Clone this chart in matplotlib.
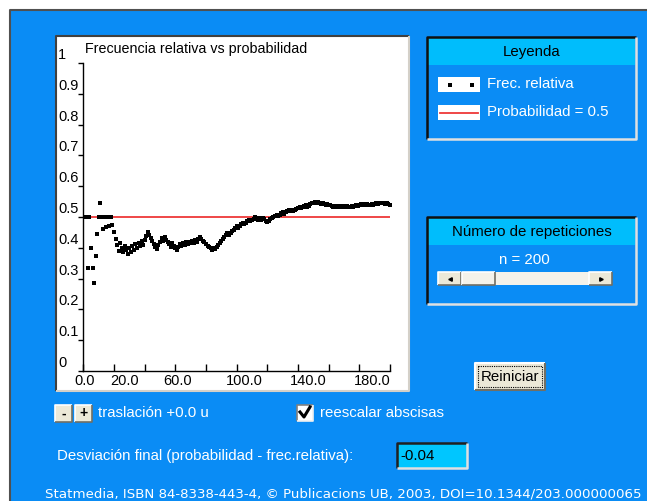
import matplotlib
matplotlib.use("Agg")
import matplotlib.pyplot as plt
import matplotlib.transforms as mtransforms
import numpy as np
from matplotlib.lines import Line2D
from matplotlib.patches import Rectangle

# relative frequency after each repetition (n = 2 .. 200)
freq = [
    0.500, 0.333, 0.500, 0.400, 0.333, 0.286, 0.375, 0.444, 0.500,  # 2-10
    0.545, 0.500, 0.462, 0.500, 0.467, 0.500, 0.471, 0.500, 0.474, 0.450,  # 11-20
    0.429, 0.409, 0.391, 0.417, 0.400, 0.385, 0.407, 0.393, 0.379, 0.400,  # 21-30
    0.387, 0.406, 0.394, 0.412, 0.400, 0.417, 0.405, 0.421, 0.410, 0.425,  # 31-40
    0.439, 0.452, 0.442, 0.432, 0.422, 0.413, 0.404, 0.396, 0.408, 0.420,  # 41-50
    0.431, 0.423, 0.434, 0.426, 0.418, 0.411, 0.404, 0.414, 0.407, 0.400,  # 51-60
    0.393, 0.403, 0.413, 0.406, 0.415, 0.409, 0.418, 0.412, 0.420, 0.414,  # 61-70
    0.423, 0.417, 0.425, 0.419, 0.427, 0.434, 0.429, 0.423, 0.418, 0.413,  # 71-80
    0.407, 0.402, 0.398, 0.393, 0.400, 0.395, 0.402, 0.409, 0.416, 0.422,  # 81-90
    0.429, 0.435, 0.441, 0.447, 0.442, 0.448, 0.454, 0.459, 0.465, 0.470,  # 91-100
    0.465, 0.471, 0.476, 0.481, 0.476, 0.481, 0.486, 0.491, 0.486, 0.491,  # 101-110
    0.495, 0.500, 0.496, 0.491, 0.496, 0.491, 0.496, 0.492, 0.487, 0.483,  # 111-120
    0.488, 0.492, 0.496, 0.500, 0.504, 0.508, 0.504, 0.508, 0.512, 0.515,  # 121-130
    0.511, 0.515, 0.519, 0.522, 0.519, 0.522, 0.518, 0.522, 0.525, 0.529,  # 131-140
    0.532, 0.528, 0.531, 0.535, 0.538, 0.534, 0.537, 0.541, 0.544, 0.547,  # 141-150
    0.550, 0.546, 0.549, 0.545, 0.542, 0.545, 0.541, 0.538, 0.541, 0.538,  # 151-160
    0.540, 0.537, 0.534, 0.537, 0.533, 0.536, 0.533, 0.536, 0.533, 0.535,  # 161-170
    0.532, 0.535, 0.532, 0.534, 0.537, 0.534, 0.537, 0.539, 0.536, 0.539,  # 171-180
    0.541, 0.538, 0.541, 0.538, 0.541, 0.538, 0.540, 0.543, 0.540, 0.542,  # 181-190
    0.545, 0.542, 0.544, 0.546, 0.544, 0.546, 0.543, 0.545, 0.543, 0.540,  # 191-200
]
n_first = 2
probability = 0.5
final_dev = "-0.04"
n_total = 200

y_ticks = [0, 0.1, 0.2, 0.3, 0.4, 0.5, 0.6, 0.7, 0.8, 0.9, 1.0]
y_labels = ["0", "0.1", "0.2", "0.3", "0.4", "0.5", "0.6", "0.7", "0.8", "0.9", "1"]
x_ticks = [0, 20, 40, 60, 80, 100, 120, 140, 160, 180, 200]
x_labels = ["0.0", "20.0", "60.0", "100.0", "140.0", "180.0"]
x_label_pos = [0.8, 27.0, 61.4, 104.7, 146.4, 188.1]

BLUE = "#0a8cf5"
CYAN = "#00bdfc"
BOX_CYAN = "#00c6ff"
BEIGE = "#ece9d8"
TRACK = "#f4f2ea"
DARK = "#404040"
LIGHT = "#d4d0c8"
RED = "#ee3838"

W, H = 647, 501
FONT = ["Liberation Sans", "DejaVu Sans"]
plt.rcParams["font.family"] = FONT
plt.rcParams["font.size"] = 10.5

fig = plt.figure(figsize=(W / 100, H / 100), dpi=100, facecolor=BLUE)


def rect(x0, y0, x1, y1, **kw):
    r = Rectangle((x0 / W, 1 - y1 / H), (x1 - x0) / W, (y1 - y0) / H,
                  transform=fig.transFigure, **kw)
    fig.patches.append(r)
    return r


def line(xs, ys, **kw):
    kw.setdefault("zorder", 4)
    ln = Line2D([x / W for x in xs], [1 - y / H for y in ys], transform=fig.transFigure, **kw)
    fig.lines.append(ln)
    return ln


def text(x, y, s, **kw):
    kw.setdefault("va", "center")
    kw.setdefault("zorder", 6)
    return fig.text(x / W, 1 - y / H, s, **kw)


def sunken(x0, y0, x1, y1, dark=DARK, light=LIGHT, lw=1.5):
    line([x0, x0, x1], [y1, y0, y0], color=dark, lw=lw, solid_capstyle="butt")
    line([x0, x1, x1], [y1, y1, y0], color=light, lw=lw, solid_capstyle="butt")


def raised(x0, y0, x1, y1, lw=1.2):
    line([x0, x0, x1], [y1, y0, y0], color="white", lw=lw, solid_capstyle="butt")
    line([x0, x1, x1], [y1, y1, y0], color="#716f64", lw=lw, solid_capstyle="butt")


# white margin + outer border of the applet
rect(0, 0, W, 10, facecolor="white", edgecolor="none", zorder=0)
rect(0, 0, 10, H, facecolor="white", edgecolor="none", zorder=0)
line([10, 10, W], [H, 10, 10], color="#505050", lw=1.5)

# plot panel
rect(56, 36, 409, 391, facecolor="white", edgecolor="none", zorder=1)
sunken(56, 36, 409, 391)

ax = fig.add_axes([83.3 / W, 1 - 371 / H, (390 - 83.3) / W, (371 - 63) / H])
ax.set_zorder(5)
ax.set_facecolor("none")
ax.set_xlim(0, 200)
ax.set_ylim(0, 1)
for side in ("top", "right"):
    ax.spines[side].set_visible(False)
for side in ("left", "bottom"):
    ax.spines[side].set_linewidth(1.0)
ax.set_yticks(y_ticks)
ax.set_yticklabels([])
ax.tick_params(axis="y", direction="out", length=3.8, width=1.0)
ax.set_xticks(x_ticks)
ax.set_xticklabels([])
ax.tick_params(axis="x", direction="in", length=5.0, width=1.0)

ax.axhline(probability, color=RED, lw=1.3, zorder=2)
n_values = np.arange(n_first, n_first + len(freq))
ax.plot(n_values, freq, linestyle="none", marker="s", markersize=2.9,
        markeredgewidth=0, color="black", clip_on=False, zorder=3)

ytrans = mtransforms.offset_copy(
    mtransforms.blended_transform_factory(fig.transFigure, ax.transData),
    fig=fig, x=0, y=5.8, units="points")
for v, lab in zip(y_ticks, y_labels):
    ax.text(58 / W, v, lab, transform=ytrans, ha="left", va="center", fontsize=10.5)

xtrans = mtransforms.offset_copy(
    mtransforms.blended_transform_factory(ax.transData, ax.transAxes),
    fig=fig, x=0, y=-2.5, units="points")
for p, lab in zip(x_label_pos, x_labels):
    ax.text(p, 0, lab, transform=xtrans, ha="center", va="top", fontsize=10.5)

text(85, 48.5, "Frecuencia relativa vs probabilidad", ha="left", fontsize=10.3)

# legend panel
rect(427, 37, 636, 139, facecolor=BLUE, edgecolor="none", zorder=1)
rect(428, 38, 635, 65, facecolor=CYAN, edgecolor="none", zorder=1)
line([427, 427, 636], [139, 37, 37], color="#101010", lw=1.8, solid_capstyle="butt")
line([427, 636, 636], [139, 139, 37], color="#e0e0e0", lw=1.8, solid_capstyle="butt")
text(532, 52, "Leyenda", ha="center", color="black", fontsize=10.8)
rect(438, 77, 480, 92, facecolor="white", edgecolor="none", zorder=2)
line([450, 472], [84.5, 84.5], linestyle="none", marker="s", markersize=2.9,
     markeredgewidth=0, color="black")
text(487, 84, "Frec. relativa", ha="left", color="white", fontsize=10.8)
rect(438, 105, 480, 120, facecolor="white", edgecolor="none", zorder=2)
line([440, 478], [112.5, 112.5], color=RED, lw=1.3)
text(487, 112, "Probabilidad = " + str(probability), ha="left", color="white", fontsize=10.8)

# repetitions panel
rect(427, 217, 636, 304, facecolor=BLUE, edgecolor="none", zorder=1)
rect(428, 218, 635, 245, facecolor=CYAN, edgecolor="none", zorder=1)
line([427, 427, 636], [304, 217, 217], color="#101010", lw=1.8, solid_capstyle="butt")
line([427, 636, 636], [304, 304, 217], color="#e0e0e0", lw=1.8, solid_capstyle="butt")
text(532, 232, "Número de repeticiones", ha="center", color="black", fontsize=10.8)
text(524, 260, "n = %d" % n_total, ha="center", color="white", fontsize=10.8)
rect(438, 272, 612, 285, facecolor=TRACK, edgecolor="none", zorder=2)
rect(438, 272, 461, 285, facecolor=BEIGE, edgecolor="none", zorder=2)
raised(438, 272, 461, 285)
rect(589, 272, 612, 285, facecolor=BEIGE, edgecolor="none", zorder=2)
raised(589, 272, 612, 285)
rect(462, 272, 495, 285, facecolor=TRACK, edgecolor="none", zorder=2)
raised(462, 272, 495, 285)
line([449.5], [278.5], marker="<", markersize=2.5, color="black", linestyle="none")
line([600.5], [278.5], marker=">", markersize=2.5, color="black", linestyle="none")

# Reiniciar button
rect(475, 363, 545, 390, facecolor=BEIGE, edgecolor="none", zorder=2)
raised(475, 363, 545, 390, lw=1.5)
line([478, 542, 542, 478, 478], [366, 366, 387, 387, 366], color="black",
     lw=0.8, linestyle=(0, (1, 1)))
text(510, 377, "Reiniciar", ha="center", color="black", fontsize=10.8)

# translation buttons and checkbox
for bx, sym in ((55, "-"), (75, "+")):
    rect(bx, 405, bx + 17, 422, facecolor=BEIGE, edgecolor="none", zorder=2)
    raised(bx, 405, bx + 17, 422)
    text(bx + 8.5, 413.5, sym, ha="center", color="black", fontsize=10, fontweight="bold")
text(98, 413, "traslación +0.0 u", ha="left", color="white", fontsize=10.8)
rect(297, 405, 313, 421, facecolor="white", edgecolor="none", zorder=2)
sunken(297, 405, 313, 421, dark="#808080", light="#f0f0f0", lw=1.2)
line([300, 304, 310], [412, 417, 407], color="black", lw=2.2)
text(320, 413, "reescalar abscisas", ha="left", color="white", fontsize=10.8)

# final deviation
text(57, 456, "Desviación final (probabilidad - frec.relativa):", ha="left",
     color="white", fontsize=10.8)
rect(397, 443, 467, 468, facecolor=BOX_CYAN, edgecolor="none", zorder=2)
sunken(397, 443, 467, 468, dark="#202020", light="#e0e0e0", lw=1.8)
text(400, 456, final_dev, ha="left", color="black", fontsize=10.8)

text(45, 494, "Statmedia, ISBN 84-8338-443-4, © Publicacions UB, 2003, DOI=10.1344/203.000000065",
     ha="left", color="white", fontsize=9.6, family=["DejaVu Sans"])

fig.savefig("out.png", dpi=100, facecolor=BLUE)
